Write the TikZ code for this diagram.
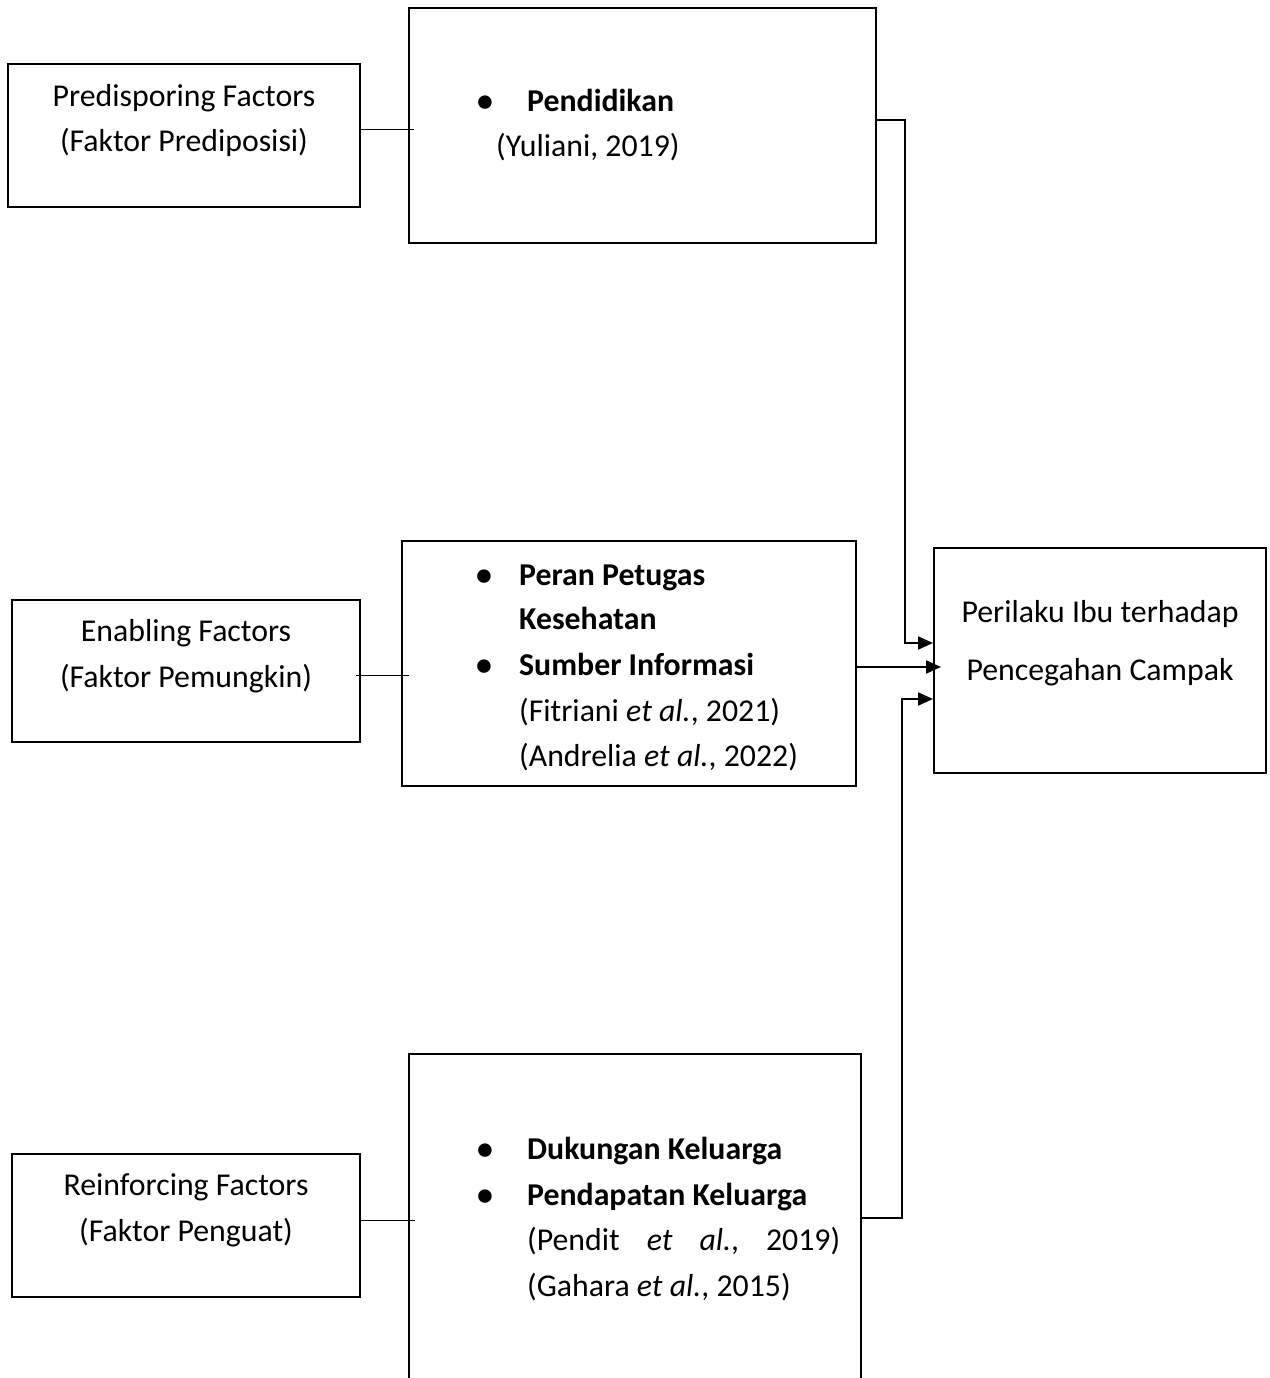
\documentclass[tikz,border=0pt]{standalone}
\usepackage{fontspec}
\setmainfont{Carlito}
\usetikzlibrary{arrows.meta}
\begin{document}
\begin{tikzpicture}[x=1pt,y=-1pt,
  box/.style={draw,line width=2pt,rectangle,inner sep=0pt},
  conn/.style={line width=1pt},
  arr/.style={line width=2pt,-{Triangle[length=15pt,width=13pt]}},
  txt/.style={inner sep=0pt,font=\fontsize{31.8}{44}\selectfont},
  bul/.style={inner sep=0pt,font=\fontsize{31.8}{44}\selectfont\bfseries}]
\clip (0,0) rectangle (1269,1378);
\useasboundingbox (0,0) rectangle (1269,1378);
% left boxes
\node[box,minimum width=352pt,minimum height=143pt] (a1) at (184,135.5) {};
\node[box,minimum width=348pt,minimum height=142pt] (a2) at (186,671) {};
\node[box,minimum width=348pt,minimum height=143pt] (a3) at (186,1225.5) {};
% middle boxes
\node[box,minimum width=467pt,minimum height=235pt] (b1) at (642.5,125.5) {};
\node[box,minimum width=454pt,minimum height=245pt] (b2) at (629,663.5) {};
\node[box,minimum width=452pt,minimum height=350pt] (b3) at (635,1229) {};
% right box
\node[box,minimum width=332pt,minimum height=225pt] (c) at (1100,660.5) {};
% texts left
\node[txt,anchor=base] (t11) at (184,107) {Predisporing Factors};
\node[txt,anchor=base] (t12) at (184,151) {(Faktor Prediposisi)};
\node[txt,anchor=base] (t21) at (186,641) {Enabling Factors};
\node[txt,anchor=base] (t22) at (186,687) {(Faktor Pemungkin)};
\node[txt,anchor=base] (t31) at (186,1195) {Reinforcing Factors};
\node[txt,anchor=base] (t32) at (186,1241) {(Faktor Penguat)};
% texts b1
\node[bul,anchor=base] (bu1) at (485,112) {\textbullet};
\node[bul,anchor=base west] (p1) at (527,112) {Pendidikan};
\node[txt,anchor=base west] (p2) at (496,156) {(Yuliani, 2019)};
% texts b2
\node[bul,anchor=base] (bu2) at (484,585) {\textbullet};
\node[bul,anchor=base west] (q1) at (519,585) {Peran Petugas};
\node[bul,anchor=base west] (q2) at (519,629) {Kesehatan};
\node[bul,anchor=base] (bu3) at (484,675) {\textbullet};
\node[bul,anchor=base west] (q3) at (519,675) {Sumber Informasi};
\node[txt,anchor=base west] (q4) at (519,721) {(Fitriani \textit{et al.}, 2021)};
\node[txt,anchor=base west] (q5) at (519,766) {(Andrelia \textit{et al.}, 2022)};
% texts b3
\node[bul,anchor=base] (bu4) at (485,1159) {\textbullet};
\node[bul,anchor=base west] (r1) at (527,1159) {Dukungan Keluarga};
\node[bul,anchor=base] (bu5) at (485,1205) {\textbullet};
\node[bul,anchor=base west] (r2) at (527,1205) {Pendapatan Keluarga};
\node[txt,anchor=base west] (r3) at (527,1250) {\hbox to 313pt{(Pendit\hfill\textit{et}\hfill\textit{al.},\hfill 2019)}};
\node[txt,anchor=base west] (r4) at (527,1296) {(Gahara \textit{et al.}, 2015)};
% texts c
\node[txt,anchor=base] (c1) at (1100,622) {Perilaku Ibu terhadap};
\node[txt,anchor=base] (c2) at (1100,680) {Pencegahan Campak};
% thin connectors
\draw[conn] (a1.east |- 0,130) -- ([xshift=6pt]b1.west |- 0,130);
\draw[conn] ([xshift=-5pt]a2.east |- 0,675) -- ([xshift=8pt]b2.west |- 0,675);
\draw[conn] (a3.east |- 0,1220) -- ([xshift=7pt]b3.west |- 0,1220);
% arrows
\coordinate (k1) at (905,643);
\coordinate (k3) at (902,699);
\coordinate (m2) at (941,667);
\draw[arr] (b1.east |- 0,120) -| (k1) -- (c.west |- k1);
\draw[arr] (b2.east |- m2) -- (m2);
\draw[arr] (b3.east |- 0,1218) -| (k3) -- (c.west |- k3);
\end{tikzpicture}
\end{document}
